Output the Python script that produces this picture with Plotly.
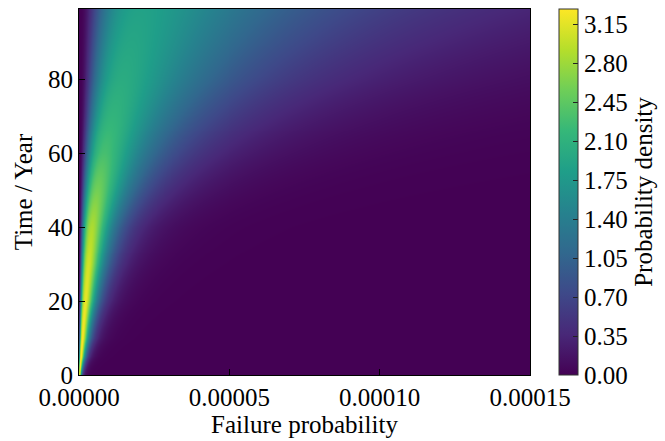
import numpy as np
import plotly.graph_objects as go

# ---- values ----
years = [0, 5, 10, 20, 30, 40, 50, 60, 70, 80, 90, 99]
# most likely failure probability (ridge) at each time
mode_fp = [0.4e-6, 0.9e-6, 1.4e-6, 2.4e-6, 3.4e-6, 4.5e-6, 6.3e-6, 8.6e-6,
           11.3e-6, 14.5e-6, 17.5e-6, 20.5e-6]
# density on the ridge
peak_density = [3.20, 3.27, 3.25, 3.18, 3.07, 2.88, 2.58, 2.30, 2.14, 2.02, 1.94, 1.88]
# spread (log-space) below and above the ridge
spread_left = [0.9, 0.9, 0.9, 0.9, 0.9, 0.9, 0.9, 0.9, 0.9, 0.92, 0.94, 0.95]
spread_right = [0.70, 0.70, 0.72, 0.72, 0.74, 0.77, 0.83, 0.89, 0.94, 0.99, 1.04, 1.08]

x_ticks = [0.0, 0.00005, 0.00010, 0.00015]
x_tick_text = ["0.00000", "0.00005", "0.00010", "0.00015"]
y_ticks = [0, 20, 40, 60, 80]
cb_ticks = [0.00, 0.35, 0.70, 1.05, 1.40, 1.75, 2.10, 2.45, 2.80, 3.15]
cb_max = 3.29

# ---- build density field ----
fp = np.linspace(0.0, 1.5e-4, 455)
tt = np.linspace(0.0, 99.0, 370)
m = np.exp(np.interp(tt, years, np.log(mode_fp)))
A = np.interp(tt, years, peak_density)
sl = np.interp(tt, years, spread_left)
sr = np.interp(tt, years, spread_right)

X = fp[None, :]
safe = np.where(X > 0, X, 1e-30)
u = np.log(safe / m[:, None])
sig = np.where(u < 0, sl[:, None], sr[:, None])
Z = A[:, None] * np.exp(-u**2 / (2 * sig**2))
Z = np.where(X > 0, Z, 0.0)

FONT = "Liberation Serif, Times New Roman, serif"

fig = go.Figure(go.Heatmap(
    x=fp, y=tt, z=Z, colorscale="Viridis", zmin=0, zmax=cb_max,
    colorbar=dict(
        thickness=19, len=1, lenmode="fraction", y=0.5, yanchor="middle",
        x=1.064, xanchor="left", xpad=0, ypad=0,
        outlinewidth=1, outlinecolor="#333333",
        ticks="inside", ticklen=5, tickcolor="#222222",
        tickvals=cb_ticks, ticktext=[f"{v:.2f}" for v in cb_ticks],
        tickfont=dict(family=FONT, size=25, color="black"),
        title=dict(text="Probability density", side="right",
                   font=dict(family=FONT, size=25, color="black")),
    ),
    hoverinfo="skip",
))

axis_common = dict(
    ticks="inside", ticklen=6, tickwidth=1.2, tickcolor="black",
    showline=True, linecolor="black", linewidth=1, mirror=True,
    showgrid=False, zeroline=False,
    tickfont=dict(family=FONT, size=25, color="black"),
)

fig.update_layout(
    width=665, height=441,
    margin=dict(l=79, r=132, t=8, b=64),
    paper_bgcolor="white", plot_bgcolor="white",
    font=dict(family=FONT, size=25, color="black"),
    xaxis=dict(range=[0, 1.5e-4], tickvals=x_ticks, ticktext=x_tick_text,
               title=dict(text="Failure probability", standoff=4,
                          font=dict(family=FONT, size=25)),
               **axis_common),
    yaxis=dict(range=[0, 99], tickvals=y_ticks,
               title=dict(text="Time / Year", standoff=8,
                          font=dict(family=FONT, size=25)),
               **axis_common),
)

fig.write_html("out.html")
